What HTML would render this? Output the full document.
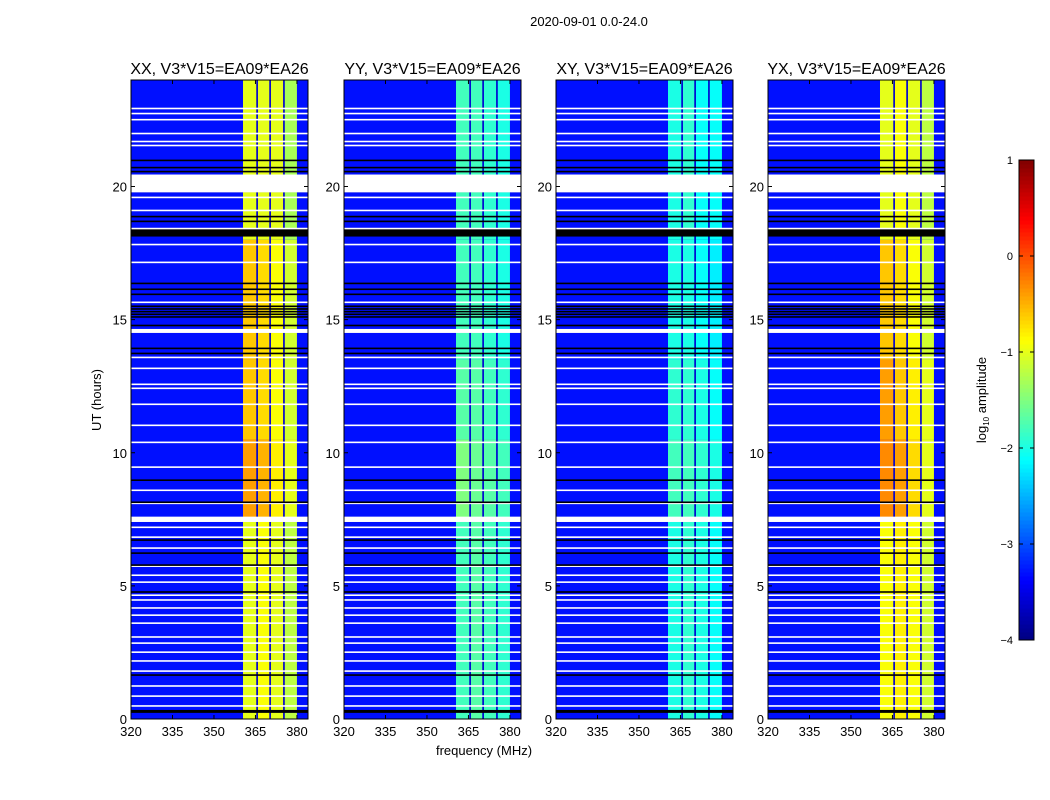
<!DOCTYPE html>
<html><head><meta charset="utf-8"><style>
body{margin:0;background:#fff;}
svg{display:block;font-family:"Liberation Sans",sans-serif;}
</style></head><body>
<svg id="fig" width="1050" height="800">
<text x="589" y="26" font-size="13" text-anchor="middle">2020-09-01 0.0-24.0</text>
<text x="484" y="755" font-size="13" text-anchor="middle">frequency (MHz)</text>
<text transform="translate(101,400) rotate(-90)" font-size="13" text-anchor="middle">UT (hours)</text>
<g id="panels"></g>
<g id="cbar"></g>
</svg>
<script>
const panelTitles=["XX, V3*V15=EA09*EA26","YY, V3*V15=EA09*EA26","XY, V3*V15=EA09*EA26","YX, V3*V15=EA09*EA26"];
const xTicks=[320,335,350,365,380];
const yTicks=[0,5,10,15,20];
const bandEdges=[[360.5,365.3],[365.9,370.0],[370.6,375.0],[375.6,380.0]];
const timeEdges=[0,7.5,10.5,13.5,18,24];
const xxLevels=[[-1.0,-0.9,-1.0,-1.2],[-0.4,-0.5,-0.8,-1.0],[-0.6,-0.7,-0.9,-1.1],[-0.6,-0.7,-0.9,-1.1],[-1.0,-1.0,-1.0,-1.3]];
const yyLevels=[[-1.8,-1.7,-1.8,-1.9],[-1.5,-1.6,-1.7,-1.8],[-1.7,-1.7,-1.8,-1.9],[-1.8,-1.8,-1.9,-2.0],[-1.8,-1.8,-1.9,-2.0]];
const xyLevels=[[-2.0,-1.9,-2.0,-2.1],[-1.8,-1.8,-1.9,-2.0],[-1.9,-1.9,-2.0,-2.1],[-2.0,-2.0,-2.1,-2.2],[-2.0,-1.9,-2.1,-2.1]];
const yxLevels=[[-0.9,-0.8,-0.9,-1.1],[-0.3,-0.4,-0.7,-1.0],[-0.4,-0.6,-0.8,-1.0],[-0.6,-0.7,-0.9,-1.1],[-1.0,-0.9,-1.0,-1.2]];
const backgroundLevel=-3.3;
const gapLevel=-3.6;
const whiteRows=[22.93,22.74,22.51,21.99,21.69,21.54,19.59,19.1,18.42,17.82,17.15,15.65,13.58,13.17,12.57,12.42,11.82,11.03,10.39,9.46,8.59,8.1,7.2,6.83,6.42,5.74,5.4,5.14,4.65,4.47,4.17,3.9,3.6,3.08,2.85,2.51,2.18,1.8,1.24,0.86,0.49];
const whiteBlocks=[[19.78,20.45],[7.4,7.6],[14.5,14.65]];
const blackRows=[20.98,20.71,20.56,18.87,18.69,16.36,16.14,15.95,14.78,13.92,13.73,8.97,8.14,6.72,6.23,5.78,4.77,1.65,20.4,19.82,15.1,15.2,15.3,15.4,15.5];
const blackBlocks=[[18.12,18.42],[0.23,0.34]];
const cbTicks=[-4,-3,-2,-1,0,1];

const allLevels=[xxLevels,yyLevels,xyLevels,yxLevels];
const panelX=[131,344,556,768], PW=177, PT=80, PB=719;
const FMIN=320,FMAX=384,TMIN=0,TMAX=24;
const NS="http://www.w3.org/2000/svg";
function jet(v){ // v in -4..1
  let t=(v+4)/5; t=Math.max(0,Math.min(1,t));
  const r=Math.max(0,Math.min(1,Math.min(4*t-1.5,-4*t+4.5)));
  const g=Math.max(0,Math.min(1,Math.min(4*t-0.5,-4*t+3.5)));
  const b=Math.max(0,Math.min(1,Math.min(4*t+0.5,-4*t+2.5)));
  return `rgb(${Math.round(r*255)},${Math.round(g*255)},${Math.round(b*255)})`;
}
function mk(tag,attrs,parent){const e=document.createElementNS(NS,tag);for(const k in attrs)e.setAttribute(k,attrs[k]);parent.appendChild(e);return e;}
const root=document.getElementById('panels');
panelX.forEach((x0,p)=>{
  const xs=f=>x0+(f-FMIN)/(FMAX-FMIN)*PW;
  const ys=t=>PB-(t-TMIN)/(TMAX-TMIN)*(PB-PT);
  const g=mk('g',{},root);
  
  
  const bg=mk('rect',{x:x0,y:PT,width:PW,height:PB-PT,fill:jet(backgroundLevel)},g);
  
  
  // band gap region
  const gr=mk('rect',{x:xs(bandEdges[0][0]),y:PT,width:xs(bandEdges[3][1])-xs(bandEdges[0][0]),height:PB-PT,fill:jet(gapLevel)},g);
  
  
  const lv=allLevels[p];
  for(let s=0;s<timeEdges.length-1;s++){
    for(let b=0;b<bandEdges.length;b++){
      const c=mk('rect',{x:xs(bandEdges[b][0]),y:ys(timeEdges[s+1]),width:xs(bandEdges[b][1])-xs(bandEdges[b][0]),height:ys(timeEdges[s])-ys(timeEdges[s+1]),fill:jet(lv[s][b])},g);
      
      
    }
  }
  const lineAt=(t,h,col,name)=>{const r=mk('rect',{x:x0,y:ys(t)-h/2,width:PW,height:h,fill:col},g);
    
    };
  blackBlocks.forEach(bk=>{const r=mk('rect',{x:x0,y:ys(bk[1]),width:PW,height:ys(bk[0])-ys(bk[1]),fill:'#000'},g);
    
    });
  whiteRows.forEach(t=>lineAt(t,1.6,'#fff','flagged-row-white'));
  blackRows.forEach(t=>lineAt(t,1.6,'#000','flagged-row-black'));
  whiteBlocks.forEach(bk=>{const r=mk('rect',{x:x0,y:ys(bk[1]),width:PW,height:ys(bk[0])-ys(bk[1]),fill:'#fff'},g);
    
    });
  const fr=mk('rect',{x:x0,y:PT,width:PW,height:PB-PT,fill:'none',stroke:'#000','stroke-width':1},g);
  
  
  const tt=mk('text',{x:x0+PW/2,y:74,'font-size':16,'text-anchor':'middle'},g);tt.textContent=panelTitles[p];
  
  
  xTicks.forEach(v=>{const X=xs(v);
    mk('line',{x1:X,x2:X,y1:PB,y2:PB-4,stroke:'#000'},g);mk('line',{x1:X,x2:X,y1:PT,y2:PT+4,stroke:'#000'},g);
    const l=mk('text',{x:X,y:PB+17,'font-size':13,'text-anchor':'middle'},g);l.textContent=v;
    
    });
  yTicks.forEach(v=>{const Y=ys(v);
    mk('line',{x1:x0,x2:x0+4,y1:Y,y2:Y,stroke:'#000'},g);mk('line',{x1:x0+PW,x2:x0+PW-4,y1:Y,y2:Y,stroke:'#000'},g);
    const l=mk('text',{x:x0-4,y:Y+5,'font-size':13,'text-anchor':'end'},g);l.textContent=v;
    
    });
});
// colorbar
const cb=document.getElementById('cbar');


const CX=1019,CW=15,CT=160,CB=640;
const cy=v=>CB-(v+4)/5*(CB-CT);
for(let i=0;i<120;i++){const v0=-4+5*i/120,v1=-4+5*(i+1)/120;
  mk('rect',{x:CX,y:cy(v1),width:CW,height:cy(v0)-cy(v1)+0.5,fill:jet((v0+v1)/2)},cb);}
mk('rect',{x:CX,y:CT,width:CW,height:CB-CT,fill:'none',stroke:'#000'},cb);
cbTicks.forEach(v=>{const Y=cy(v);mk('line',{x1:CX,x2:CX+4,y1:Y,y2:Y,stroke:'#000'},cb);mk('line',{x1:CX+CW,x2:CX+CW-4,y1:Y,y2:Y,stroke:'#000'},cb);
  const l=mk('text',{x:CX-6,y:Y+4,'font-size':11,'text-anchor':'end'},cb);l.textContent=v<0?'\u2212'+(-v):v;
  
  });
const cl=mk('text',{transform:'translate(986,400) rotate(-90)','font-size':13,'text-anchor':'middle'},cb);
cl.innerHTML='log<tspan font-size="8" dy="3">10</tspan><tspan dy="-3"> amplitude</tspan>';


</script>
</body></html>
